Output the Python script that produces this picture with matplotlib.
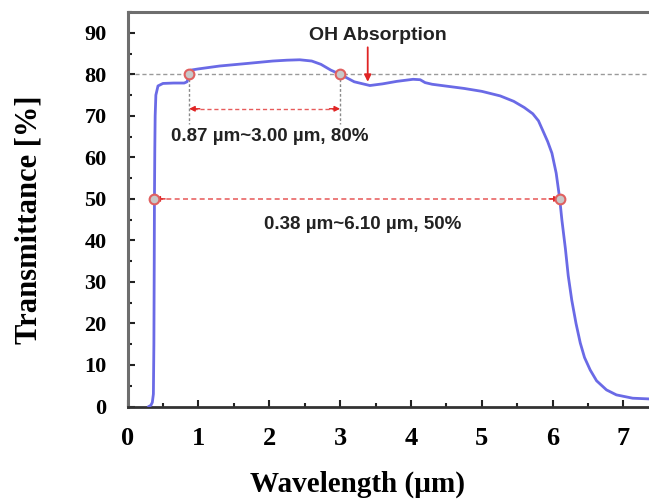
import matplotlib
matplotlib.use("Agg")
import matplotlib.pyplot as plt
from matplotlib.ticker import MultipleLocator

# measured transmittance spectrum
wavelength = [0.30, 0.33, 0.35, 0.365, 0.372, 0.377, 0.38, 0.385, 0.39, 0.40, 0.43,
              0.50, 0.65, 0.80, 0.84, 0.855, 0.87, 0.89, 1.00, 1.30, 1.68, 2.05,
              2.25, 2.43, 2.60, 2.73, 2.87, 3.00, 3.20, 3.42, 3.60, 3.80, 4.03,
              4.13, 4.20, 4.30, 4.75, 5.00, 5.26, 5.45, 5.60, 5.72, 5.80, 5.86,
              5.93, 5.99, 6.05, 6.10, 6.13, 6.18, 6.22, 6.27, 6.33, 6.39, 6.45,
              6.53, 6.62, 6.76, 6.90, 7.13, 7.40]
transmittance = [0.0, 0.3, 1.0, 3.0, 15.0, 35.0, 50.0, 62.0, 70.0, 75.0, 77.2,
                 77.8, 77.9, 77.9, 78.2, 79.0, 80.0, 81.0, 81.3, 82.0, 82.6, 83.2,
                 83.4, 83.5, 83.2, 82.4, 81.0, 80.0, 78.2, 77.3, 77.7, 78.3, 78.8,
                 78.7, 78.0, 77.6, 76.6, 75.9, 74.8, 73.5, 72.0, 70.5, 68.8, 66.5,
                 63.8, 61.0, 56.2, 50.0, 45.0, 38.0, 31.5, 25.6, 20.0, 15.3, 11.8,
                 8.8, 6.2, 4.0, 2.8, 2.0, 1.8]

# band edges at 80 % and 50 %
band80 = [0.87, 3.00]
level80 = 80
band50 = [0.38, 6.10]
level50 = 50
oh_peak = 3.39

curve_color = "#6a6ae6"
red = "#e02424"
serif = "Liberation Serif"
sans = "Liberation Sans"

fig = plt.figure(figsize=(6.49, 5.01), dpi=100)
ax = fig.add_axes([0.1965, 0.1886, 0.8035, 0.7874])

ax.set_xlim(0, 7.36)
ax.set_ylim(0, 95)

# reference line at 80 %
ax.axhline(level80, color="#9a9a9a", lw=1.0, ls=(0, (3, 2)), zorder=1)

ax.plot(wavelength, transmittance, color=curve_color, lw=2.0, zorder=3,
        solid_joinstyle="round")

# 80 % band
for x in band80:
    ax.plot([x, x], [level80, 68], color="#8a8a8a", lw=1.0, ls=(0, (2, 1.5)), zorder=2)
y80 = 71.7
ax.plot([band80[0] + 0.05, band80[1] - 0.05], [y80, y80], color=red, lw=1.0,
        ls=(0, (3, 2)), alpha=0.75, zorder=2)
for tip, tail in [(band80[0], band80[0] + 0.15), (band80[1], band80[1] - 0.15)]:
    ax.annotate("", xy=(tip, y80), xytext=(tail, y80),
                arrowprops=dict(arrowstyle="-|>", color=red, lw=1.0,
                                mutation_scale=8, shrinkA=0, shrinkB=0))
ax.text(2.01, 65, "0.87 µm~3.00 µm, 80%", family=sans, fontweight="bold",
        fontsize=13.5, color="#222222", ha="center", va="center")

# 50 % band
ax.plot([band50[0] + 0.05, band50[1] - 0.05], [level50, level50], color=red, lw=1.2,
        ls=(0, (3, 2)), alpha=0.7, zorder=2)
for tip, tail in [(band50[0], band50[0] + 0.15), (band50[1], band50[1] - 0.15)]:
    ax.annotate("", xy=(tip, level50), xytext=(tail, level50),
                arrowprops=dict(arrowstyle="-|>", color=red, lw=1.0,
                                mutation_scale=8, shrinkA=0, shrinkB=0))
ax.text(3.32, 43.8, "0.38 µm~6.10 µm, 50%", family=sans, fontweight="bold",
        fontsize=13.5, color="#222222", ha="center", va="center")

# edge markers
ax.plot(band80, [level80] * 2, ls="none", marker="o", ms=7, mfc="#c8c8c8",
        mec="#e06060", mew=1.5, zorder=4)
ax.plot(band50, [level50] * 2, ls="none", marker="o", ms=7, mfc="#c8c8c8",
        mec="#e06060", mew=1.5, zorder=4)

# OH absorption
ax.annotate("", xy=(oh_peak, 78.2), xytext=(oh_peak, 86.5),
            arrowprops=dict(arrowstyle="-|>", color=red, lw=1.3,
                            mutation_scale=10, shrinkA=0, shrinkB=0))
ax.text(3.54, 89.4, "OH Absorption", family=sans, fontweight="bold",
        fontsize=14, color="#222222", ha="center", va="center")

# axes styling
ax.spines["right"].set_visible(False)
for side in ("left", "top"):
    ax.spines[side].set_color("#6e6e6e")
    ax.spines[side].set_linewidth(2.2)
ax.spines["bottom"].set_color("#333333")
ax.spines["bottom"].set_linewidth(2.0)

ax.xaxis.set_major_locator(MultipleLocator(1))
ax.xaxis.set_minor_locator(MultipleLocator(0.5))
ax.yaxis.set_major_locator(MultipleLocator(10))
ax.yaxis.set_minor_locator(MultipleLocator(5))
ax.tick_params(which="both", direction="in", top=False, right=False, color="#222222")
ax.tick_params(which="major", length=5, width=1.5)
ax.tick_params(which="minor", length=3, width=1.5)
ax.tick_params(axis="x", which="major", pad=15)
ax.tick_params(axis="y", which="major", pad=15)

for lab in ax.get_xticklabels():
    lab.set_fontfamily(serif)
    lab.set_fontweight("bold")
    lab.set_fontsize(19)
for lab in ax.get_yticklabels():
    lab.set_fontfamily(serif)
    lab.set_fontweight("bold")
    lab.set_fontsize(16)

ax.set_xlabel("Wavelength (µm)", family=serif, fontweight="bold", fontsize=21,
              va="center")
ax.set_ylabel("Transmittance [%]", family=serif, fontweight="bold", fontsize=22,
              va="center")
ax.xaxis.set_label_coords(0.441, -0.197)
ax.yaxis.set_label_coords(-0.188, 0.473)

fig.savefig("out.png", dpi=100)
